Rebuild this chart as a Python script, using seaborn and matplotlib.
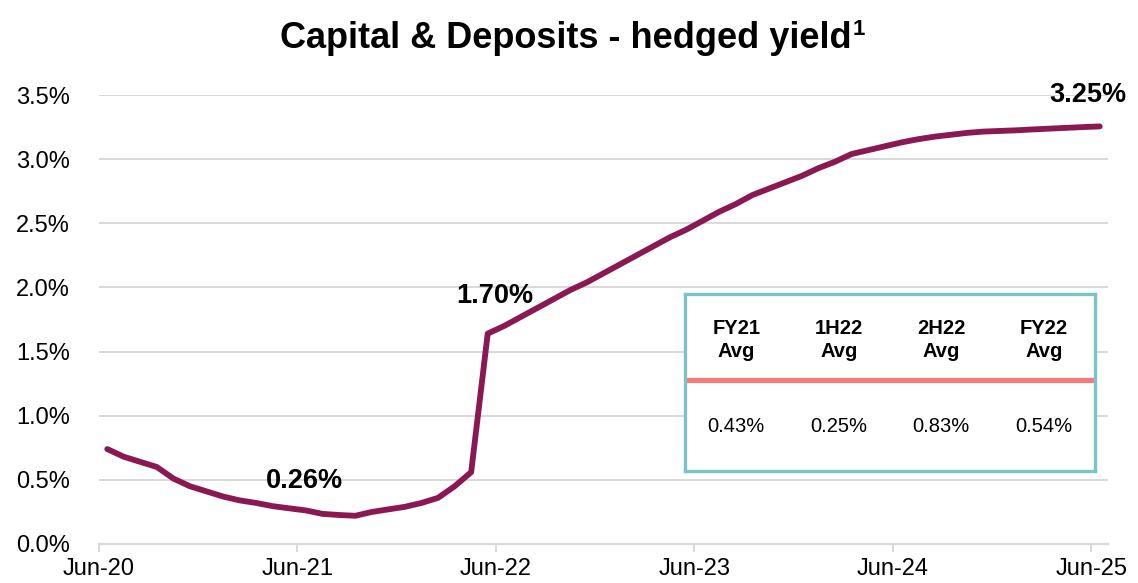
import numpy as np
import pandas as pd
import seaborn as sns
from matplotlib import pyplot as plt

# monthly hedged yield (%), Jun-20 .. Jun-25
yield_pct = [0.74, 0.68, 0.64, 0.60, 0.51, 0.45, 0.41, 0.37, 0.34, 0.32,
             0.295, 0.278, 0.262, 0.235, 0.226, 0.22, 0.25, 0.27, 0.29, 0.32,
             0.36, 0.45, 0.56, 1.64, 1.70, 1.77, 1.84, 1.91, 1.98, 2.04,
             2.11, 2.18, 2.25, 2.32, 2.39, 2.45, 2.52, 2.59, 2.65, 2.72,
             2.77, 2.82, 2.87, 2.93, 2.98, 3.04, 3.07, 3.10, 3.13, 3.155,
             3.175, 3.19, 3.205, 3.215, 3.22, 3.225, 3.232, 3.238, 3.244, 3.25,
             3.255]
tick_labels = ['Jun-20', 'Jun-21', 'Jun-22', 'Jun-23', 'Jun-24', 'Jun-25']
y_ticks = [0.0, 0.5, 1.0, 1.5, 2.0, 2.5, 3.0, 3.5]

# callouts: (month, value, label)
callout_month = [12.4, 23.9, 59.8]
callout_y = [0.49, 1.93, 3.50]
callout_text = ['0.26%', '1.70%', '3.25%']

table_headers = ['FY21\nAvg', '1H22\nAvg', '2H22\nAvg', 'FY22\nAvg']
table_values = ['0.43%', '0.25%', '0.83%', '0.54%']

line_color = '#8A1852'
box_color = '#7BC3C9'
rule_color = '#F07C7C'

sns.set_theme(style='white')
plt.rcParams['font.family'] = ['Liberation Sans', 'DejaVu Sans']
plt.rcParams['text.color'] = 'black'
plt.rcParams['xtick.color'] = 'black'
plt.rcParams['ytick.color'] = 'black'

df = pd.DataFrame({'month': np.arange(len(yield_pct)) + 0.5, 'yield': yield_pct})

fig = plt.figure(figsize=(11.38, 5.83), dpi=100)
ax = fig.add_axes([99 / 1138, 1 - 544 / 583, (1108 - 99) / 1138, (544 - 95) / 583])

sns.lineplot(data=df, x='month', y='yield', ax=ax, color=line_color, linewidth=4.2,
             solid_capstyle='round', zorder=3)

ax.set_xlim(0, 61)
ax.set_ylim(0, 3.5)
ax.set_yticks(y_ticks)
ax.set_yticklabels([f'{v:.1f}%' for v in y_ticks], fontsize=17)
ax.set_xticks(np.arange(len(tick_labels)) * 12)
ax.set_xticklabels(tick_labels, fontsize=17)
ax.set_xlabel('')
ax.set_ylabel('')

ax.grid(axis='y', color='#D9D9D9', linewidth=1.4)
ax.set_axisbelow(True)
for side in ['top', 'right', 'left']:
    ax.spines[side].set_visible(False)
ax.spines['bottom'].set_color('#D9D9D9')
ax.spines['bottom'].set_linewidth(1.6)
ax.tick_params(axis='x', bottom=True, length=6, width=1.4, color='#D9D9D9', pad=4,
               labelcolor='black')
ax.tick_params(axis='y', left=False, pad=15, labelcolor='black')

for m, v, t in zip(callout_month, callout_y, callout_text):
    ax.text(m, v, t, ha='center', va='center', fontsize=19.5, fontweight='bold',
            color='black', clip_on=False, zorder=4)

# title with superscript footnote marker
title = fig.text(0.4974, 1 - 48 / 583, 'Capital & Deposits - hedged yield', ha='center',
                 va='baseline', fontsize=26, fontweight='bold', color='black')
fig.canvas.draw()
bb = title.get_window_extent()
fig.text(bb.x1 / fig.bbox.width + 0.0005, 1 - 19 / 583, '1', ha='left', va='top',
         fontsize=16, fontweight='bold', color='black')

# inset table of averages
tab = fig.add_axes([685 / 1138, 1 - 471 / 583, (1095 - 685) / 1138, (471 - 294) / 583])
tab.set_facecolor('white')
tab.set_xticks([])
tab.set_yticks([])
tab.set_xlim(0, len(table_headers))
tab.set_ylim(0, 1)
for s in tab.spines.values():
    s.set_color(box_color)
    s.set_linewidth(2.4)
tab.axhline(0.514, color=rule_color, linewidth=3.8)
for i, (h, v) in enumerate(zip(table_headers, table_values)):
    tab.text(i + 0.5, 0.74, h, ha='center', va='center', fontsize=14.5, fontweight='bold',
             linespacing=1.25, color='black')
    tab.text(i + 0.5, 0.25, v, ha='center', va='center', fontsize=14.5, color='black')

fig.savefig('out.png', dpi=100)
